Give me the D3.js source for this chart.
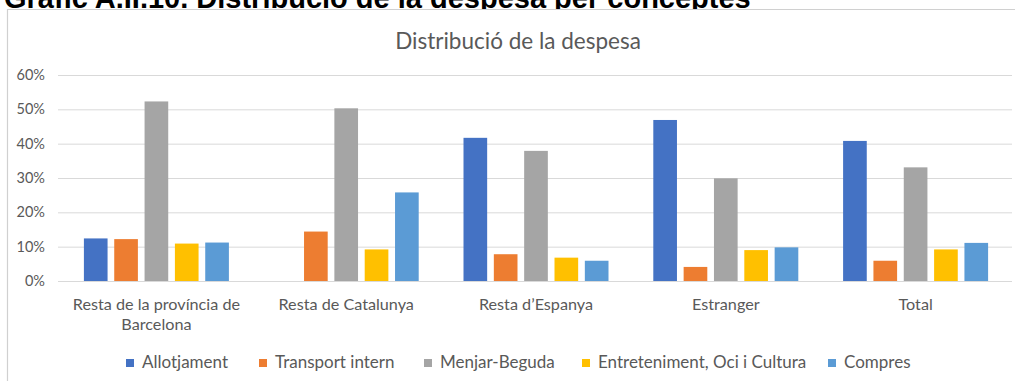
<!DOCTYPE html>
<html>
<head>
<meta charset="utf-8">
<script src="https://cdn.jsdelivr.net/npm/d3@7"></script>
<style>
  html, body { margin: 0; padding: 0; background: #fff; }
  svg { display: block; }
</style>
</head>
<body>
<svg id="chart" width="1015" height="381"></svg>
<script>
const categories = [["Resta de la província de", "Barcelona"], ["Resta de Catalunya"], ["Resta d’Espanya"], ["Estranger"], ["Total"]];
const seriesNames = ["Allotjament", "Transport intern", "Menjar-Beguda", "Entreteniment, Oci i Cultura", "Compres"];
const allotjament   = [12.4, 0,    41.7, 46.9, 40.8];
const transport     = [12.2, 14.4, 7.8,  4.1,  5.9];
const menjar        = [52.3, 50.3, 37.9, 29.9, 33.1];
const entreteniment = [10.9, 9.2,  6.8,  9.0,  9.2];
const compres       = [11.2, 25.8, 5.9,  9.8,  11.1];
const yTicks = [0, 10, 20, 30, 40, 50, 60];
const colors = ["#4472C4", "#ED7D31", "#A5A5A5", "#FFC000", "#5B9BD5"];

const series = [allotjament, transport, menjar, entreteniment, compres];
const svg = d3.select("#chart");
const font = "Lato, 'Open Sans', sans-serif";

// Outer page title (cropped at top, as in the reference)
svg.append("text")
  .attr("x", 4).attr("y", 7.5)
  .attr("font-family", "'Liberation Sans', Arial, sans-serif")
  .attr("font-weight", "bold").attr("font-size", 29)
  .attr("fill", "#000")
  .text("Gràfic A.II.10. Distribució de la despesa per conceptes");

// Chart frame
svg.append("rect").attr("x", 7).attr("y", 9).attr("width", 1008).attr("height", 372).attr("fill", "#fff");
svg.append("line").attr("x1", 7).attr("x2", 1015).attr("y1", 9.5).attr("y2", 9.5)
  .attr("stroke", "#d0d0d0").attr("stroke-width", 1.2);
svg.append("line").attr("x1", 7.5).attr("x2", 7.5).attr("y1", 9).attr("y2", 381)
  .attr("stroke", "#d0d0d0").attr("stroke-width", 1.2);

// Chart title
svg.append("text")
  .attr("x", 518).attr("y", 49)
  .attr("text-anchor", "middle")
  .attr("font-family", font).attr("font-size", 22.5)
  .attr("fill", "#595959")
  .text("Distribució de la despesa");

const plotLeft = 61.5, plotRight = 1010.5;
const y = d3.scaleLinear().domain([0, 60]).range([281, 75]);
const x0 = d3.scaleBand().domain(d3.range(categories.length)).range([plotLeft, plotRight]).paddingInner(0).paddingOuter(0);
const groupWidth = 145;
const x1 = d3.scaleBand().domain(d3.range(series.length)).range([0, groupWidth]).paddingInner(0.22).paddingOuter(0);

// Gridlines + y tick labels
const yAxis = d3.axisLeft(y).tickValues(yTicks).tickSize(-(1012 - 58)).tickFormat(d => d + "%");
const gAxis = svg.append("g").attr("transform", "translate(58,0)").call(yAxis);
gAxis.select(".domain").remove();
gAxis.selectAll(".tick line").attr("stroke", "#d9d9d9").attr("stroke-width", 1);
gAxis.selectAll(".tick text")
  .attr("x", -13)
  .attr("font-family", font).attr("font-size", 14.5)
  .attr("fill", "#595959");

// Bars
const groups = svg.append("g").selectAll("g")
  .data(categories)
  .join("g")
  .attr("transform", (d, i) => `translate(${x0(i) + x0.bandwidth() / 2 - groupWidth / 2},0)`);

groups.selectAll("rect")
  .data((d, i) => series.map((s, j) => ({ v: s[i], j })))
  .join("rect")
  .attr("x", d => x1(d.j))
  .attr("width", x1.bandwidth())
  .attr("y", d => y(d.v))
  .attr("height", d => y(0) - y(d.v))
  .attr("fill", d => colors[d.j]);

// Category labels
const catAxis = d3.axisBottom(x0).tickSize(0).tickFormat(() => "");
const gCat = svg.append("g").attr("transform", "translate(0,281)").call(catAxis);
gCat.select(".domain").remove();
gCat.selectAll(".tick").each(function(d, i) {
  const t = d3.select(this).select("text")
    .attr("y", 0).attr("dy", 0)
    .attr("font-family", font).attr("font-size", 16.2)
    .attr("fill", "#595959")
    .attr("text-anchor", "middle");
  t.selectAll("tspan").data(categories[i]).join("tspan")
    .attr("x", 0)
    .attr("y", (l, k) => 29 + k * 20)
    .text(l => l);
});

// Legend
const legendX = [126, 259, 424, 582, 828];
const lg = svg.append("g").selectAll("g").data(seriesNames).join("g")
  .attr("transform", (d, i) => `translate(${legendX[i]},359)`);
lg.append("rect").attr("width", 8).attr("height", 8).attr("fill", (d, i) => colors[i]);
lg.append("text").attr("x", 16).attr("y", 9)
  .attr("font-family", font).attr("font-size", 17)
  .attr("fill", "#595959")
  .text(d => d);
</script>
</body>
</html>
